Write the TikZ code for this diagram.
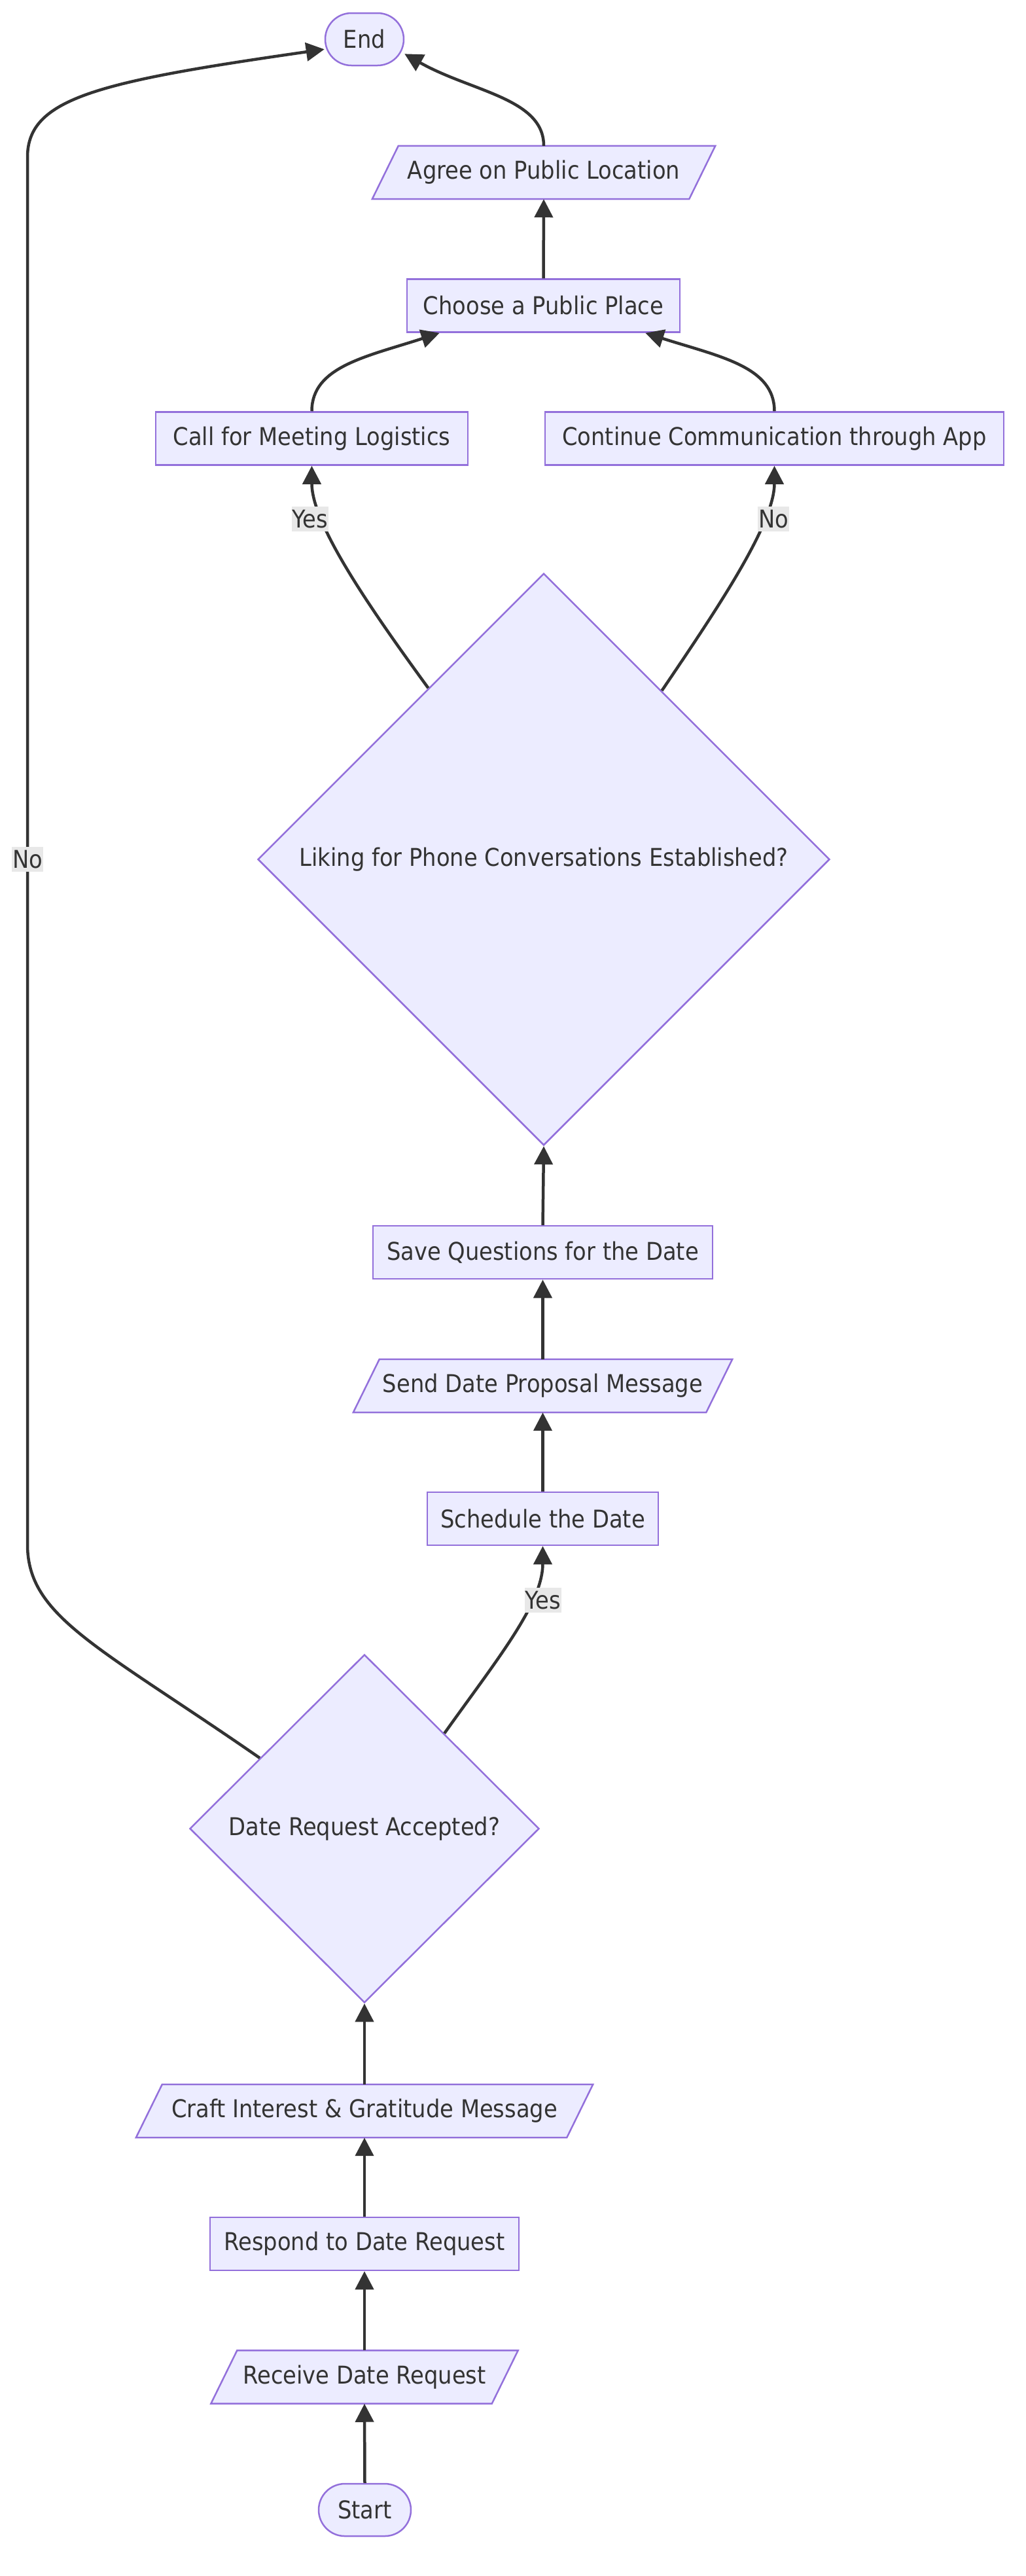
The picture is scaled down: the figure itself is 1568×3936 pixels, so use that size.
\documentclass[tikz,border=0pt]{standalone}
\usepackage{fontspec}
\setmainfont{DejaVu Sans}[FakeStretch=0.9]
\usetikzlibrary{shapes.geometric,arrows.meta,backgrounds}
\definecolor{nodefill}{HTML}{ECECFF}
\definecolor{nodeline}{HTML}{9370DB}
\definecolor{edgecol}{HTML}{333333}
\definecolor{lblbg}{HTML}{E8E8E8}
\newcommand\drawio[1]{%
  \begin{pgfonlayer}{background}
  \draw[iobox] ([xshift=-20pt]#1.south west) -- ([xshift=20pt]#1.north west)
     -- ([xshift=20pt]#1.north east) -- ([xshift=-20pt]#1.south east) -- cycle;
  \end{pgfonlayer}}
\begin{document}
\begin{tikzpicture}[x=1pt,y=-1pt,
  every node/.style={font=\fontsize{37.5}{45}\selectfont, text=edgecol},
  procbox/.style={draw=nodeline, fill=nodefill, line width=2.5pt, rectangle, minimum height=81pt, inner sep=0pt},
  iotext/.style={rectangle, minimum height=81pt, inner sep=0pt},
  iobox/.style={draw=nodeline, fill=nodefill, line width=2.5pt, line join=miter},
  termbox/.style={draw=nodeline, fill=nodefill, line width=2.5pt, rectangle, rounded corners=40pt, minimum height=80pt, inner sep=0pt},
  decbox/.style={draw=nodeline, fill=nodefill, line width=2.5pt, diamond, inner sep=0pt},
  flow/.style={draw=edgecol, line width=4.5pt, -{Triangle[length=28pt,width=28pt]}},
  lbl/.style={fill=lblbg, inner xsep=1pt, inner ysep=0pt, minimum height=38pt}
]
\useasboundingbox (0,0) rectangle (1568,3936);

% nodes
\node[termbox, minimum width=120pt] (end) at (557,60) {End};
\node[iotext, minimum width=484pt] (agree) at (831,263.5) {Agree on Public Location};
\drawio{agree}
\node[procbox, minimum width=417pt] (choose) at (830.5,467) {Choose a Public Place};
\node[procbox, minimum width=477pt] (call) at (476.5,670) {Call for Meeting Logistics};
\node[procbox, minimum width=701pt] (cont) at (1183.5,670) {Continue Communication through App};
\node[decbox, minimum width=874pt, minimum height=874pt] (big) at (831,1313) {Liking for Phone Conversations Established?};
\node[procbox, minimum width=519pt] (save) at (829.5,1913.5) {Save Questions for the Date};
\node[iotext, minimum width=539pt] (send) at (829.5,2117.5) {Send Date Proposal Message};
\drawio{send}
\node[procbox, minimum width=353pt] (sched) at (829.5,2320.5) {Schedule the Date};
\node[decbox, minimum width=534pt, minimum height=532pt] (date) at (557,2794) {Date Request Accepted?};
\node[iotext, minimum width=658pt] (craft) at (557,3225.5) {Craft Interest \& Gratitude Message};
\drawio{craft}
\node[procbox, minimum width=472pt] (respond) at (557,3428.5) {Respond to Date Request};
\node[iotext, minimum width=429pt] (receive) at (557,3632) {Receive Date Request};
\drawio{receive}
\node[termbox, minimum width=141pt] (start) at (557.5,3835) {Start};

% edges
\draw[flow] (start.north) -- (receive.south);
\draw[flow] (receive.north) -- (respond.south);
\draw[flow] (respond.north) -- (craft.south);
\draw[flow] (craft.north) -- (date.south);
\draw[flow] (date.50.8) .. controls (760,2535) and (829.5,2450) .. (sched.south);
\draw[flow] (date.146) .. controls (150,2515) and (42,2470) .. (42,2360)
   -- (42,240) .. controls (42,150) and (150,125) .. (end.194);
\draw[flow] (sched.north) -- (send.south);
\draw[flow] (send.north) -- (save.south);
\draw[flow] (save.north) -- (big.south);
\draw[flow] (big.124.3) .. controls (563,926) and (476.5,800) .. (call.south);
\draw[flow] (big.55.7) .. controls (1099,926) and (1183.5,800) .. (cont.south);
\draw[flow] (call.north) .. controls (476.5,560) and (560,545) .. ([xshift=51pt]choose.south west);
\draw[flow] (cont.north) .. controls (1183.5,560) and (1100,545) .. ([xshift=-54pt]choose.south east);
\draw[flow] (choose.north) -- (agree.south);
\draw[flow] (agree.north) .. controls (831,150) and (720,140) .. (end.-20);

% labels
\node[lbl] (lyes1) at (474,793) {Yes};
\node[lbl] (lno1) at (1182,793) {No};
\node[lbl] (lyes2) at (830,2445) {Yes};
\node[lbl] (lno2) at (42,1313) {No};
\end{tikzpicture}
\end{document}
